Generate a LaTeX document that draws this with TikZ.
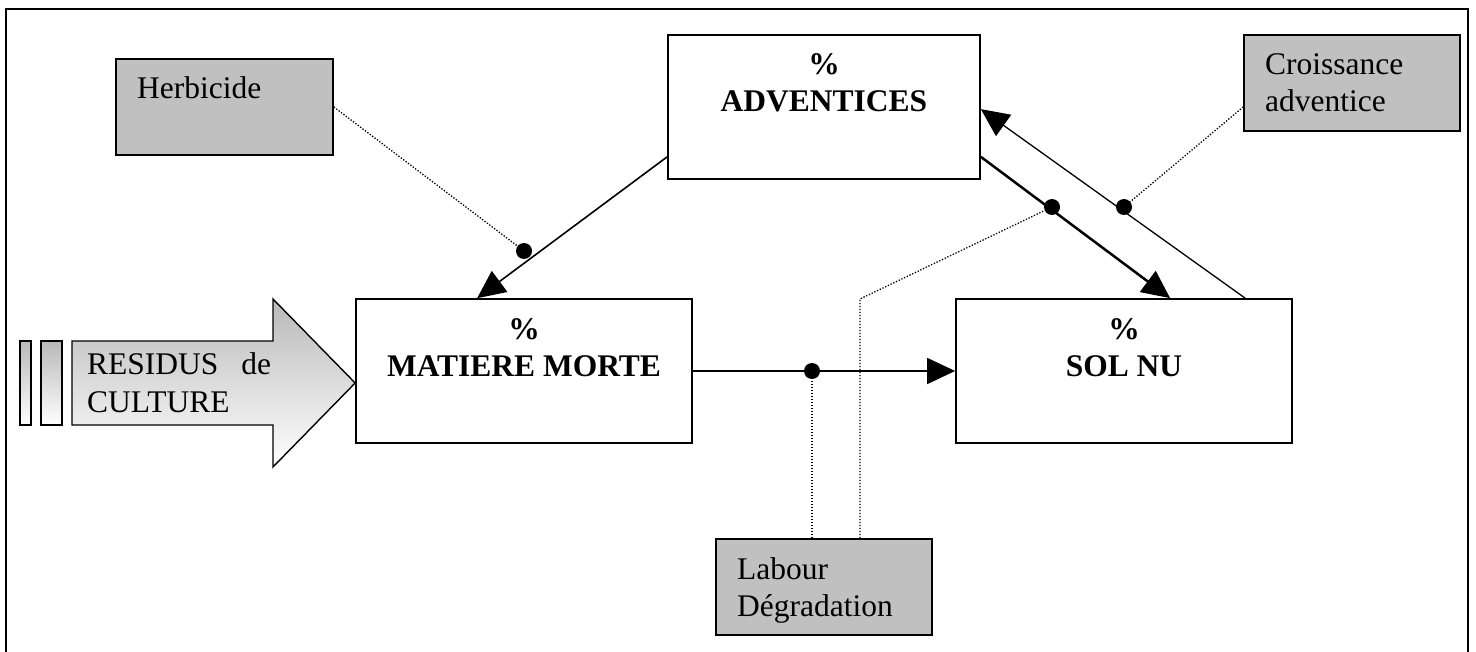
\documentclass[tikz,border=0pt]{standalone}
\usepackage{fontspec}
\setmainfont{Liberation Serif}
\usetikzlibrary{arrows.meta,calc}
\definecolor{boxgray}{HTML}{C0C0C0}
\begin{document}
\begin{tikzpicture}[x=1pt,y=-1pt,
  bigbox/.style={draw,line width=1.7pt,fill=white,inner sep=0pt,minimum width=336pt,minimum height=144pt},
  graybox/.style={draw,line width=1.7pt,fill=boxgray,inner sep=0pt,minimum width=216pt,minimum height=96pt},
  txt/.style={inner sep=0pt,font=\fontsize{31.5}{37}\selectfont},
  btxt/.style={inner sep=0pt,font=\fontsize{31.5}{37}\selectfont\bfseries},
  conn/.style={line width=1.6pt},
  tipend/.style={-{Triangle[length=28pt,width=26pt]}},
  dotline/.style={line width=1.3pt,dash pattern=on 1.3pt off 1.7pt},
  blob/.style={circle,fill=black,inner sep=0pt,minimum size=16pt},
  shadefill/.style={top color=gray!55,bottom color=white,draw,line width=1.4pt}]
\useasboundingbox (0,0) rectangle (1476,652);
% frame
\draw[line width=2pt] (6,652) -- (6,9) -- (1468,9) -- (1468,652);

% boxes
\node[graybox,minimum width=217pt] (herb) at (224.5,107) {};
\node[bigbox,minimum width=312pt] (adv) at (824,107) {};
\node[graybox] (crois) at (1352,83) {};
\node[bigbox] (mm) at (524,371) {};
\node[bigbox] (sol) at (1124,371) {};
\node[graybox] (lab) at (824,587) {};

% texts
\node[txt,anchor=base west] (herbt) at (137,99) {Herbicide};
\node[btxt,anchor=base] (advp) at (824,75) {\%};
\node[btxt,anchor=base] (advt) at (824,112) {ADVENTICES};
\node[txt,anchor=base west] (croist1) at (1265,75) {Croissance};
\node[txt,anchor=base west] (croist2) at (1265,112) {adventice};
\node[btxt,anchor=base] (mmp) at (524,340) {\%};
\node[btxt,anchor=base] (mmt) at (524,377) {MATIERE MORTE};
\node[btxt,anchor=base] (solp) at (1124,340) {\%};
\node[btxt,anchor=base] (solt) at (1124,377) {SOL NU};
\node[txt,anchor=base west] (labt1) at (737,579) {Labour};
\node[txt,anchor=base west] (labt2) at (737,616) {Dégradation};

% big input arrow
\draw[shadefill] (20,341) rectangle (31,425);
\draw[shadefill] (41,341) rectangle (62,425);
\draw[shadefill] (72,341) -- (273,341) -- (273,299) -- (mm.west |- 0,383) -- (273,467) -- (273,425) -- (72,425) -- cycle;
\node[txt,anchor=base west] (res1) at (87,375) {RESIDUS\hspace{23pt}de};
\node[txt,anchor=base west] (res2) at (87,412) {CULTURE};

% main connectors
\draw[conn,tipend] ($(adv.south west)+(0,-23)$) -- ($(mm.north west)+(122,0)$);
\draw[conn,line width=2.5pt,tipend] ($(adv.south east)+(0,-23)$) -- ($(sol.north west)+(215,0)$);
\draw[conn,line width=1.3pt,tipend] ($(sol.north west)+(290,0)$) -- ($(adv.north east)+(0,75)$);
\draw[conn,tipend] (mm.east) -- (sol.west);

% control dots
\node[blob] (d1) at (524,251) {};
\node[blob] (d2) at (1052,207) {};
\node[blob] (d3) at (1124,207) {};
\node[blob] (d4) at (812,371) {};

% dotted control lines
\draw[dotline] (herb.east) -- (d1);
\draw[dotline] ($(crois.west)+(0,24)$) -- (d3);
\draw[dotline] ($(lab.north)+(-12,0)$) -- (d4);
\coordinate (bend) at (860,299);
\draw[dotline] ($(lab.north)+(36,0)$) -- (bend) -- (d2);
\end{tikzpicture}
\end{document}
